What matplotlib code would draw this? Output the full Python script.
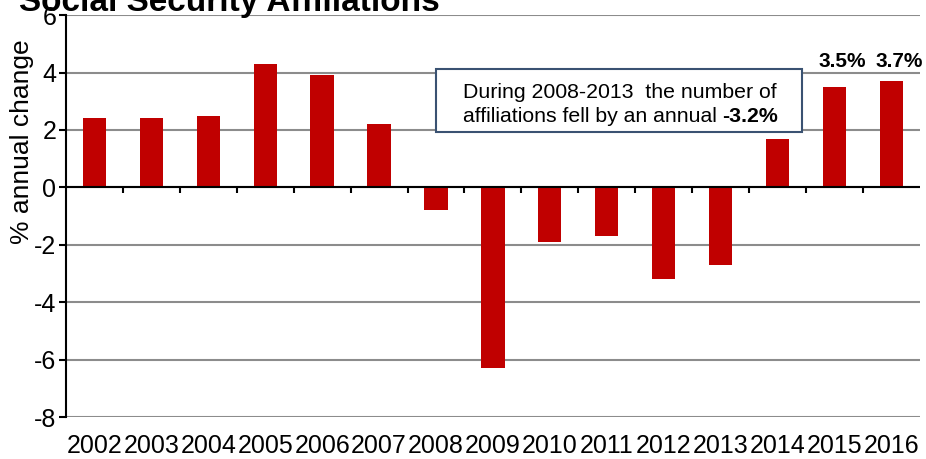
import numpy as np
import matplotlib.pyplot as plt
from matplotlib.patches import Rectangle

years = ['2002', '2003', '2004', '2005', '2006', '2007', '2008', '2009',
         '2010', '2011', '2012', '2013', '2014', '2015', '2016']
change = [2.4, 2.4, 2.5, 4.3, 3.9, 2.2, -0.8, -6.3,
          -1.9, -1.7, -3.2, -2.7, 1.7, 3.5, 3.7]
labelled = ['2015', '2016']
avg_fall = -3.2

plt.rcParams['font.family'] = ['Liberation Sans', 'DejaVu Sans']
plt.rcParams['axes.unicode_minus'] = False

fig = plt.figure(figsize=(9.26, 4.59), dpi=100)
ax = fig.add_axes([0.0713, 0.0915, 0.922, 0.8755])

x = np.arange(len(years))
ax.bar(x, change, width=0.41, color='#C00000', zorder=3)

ax.set_xlim(-0.5, len(years) - 0.5)
ax.set_ylim(-8, 6)
ax.set_yticks(np.arange(-8, 7, 2))
ax.yaxis.grid(True, color='#8c8c8c', linewidth=1.5, zorder=0)
ax.set_axisbelow(True)

for s in ['top', 'right', 'bottom']:
    ax.spines[s].set_visible(False)
ax.spines['left'].set_linewidth(1.5)
ax.tick_params(axis='y', length=5, width=1.5, labelsize=18, pad=2)

# zero line with category separators
ax.axhline(0, color='black', linewidth=1.5, zorder=4)
ax.vlines(x[:-1] + 0.5, -0.2, 0, color='black', linewidth=1.5, zorder=4)

ax.set_xticks(x)
ax.set_xticklabels(years, fontsize=18)
ax.tick_params(axis='x', length=0, pad=12)

ax.set_ylabel('% annual change', fontsize=19)
ax.yaxis.set_label_coords(-0.037, 0.684)

for yr, v in zip(years, change):
    if yr in labelled:
        i = years.index(yr)
        ax.text(i + 0.14, 4.4, f'{v:.1f}%', ha='center', va='center',
                fontsize=15, fontweight='bold')

# note box
ax.add_patch(Rectangle((6.0, 1.93), 6.43, 2.2, facecolor='white',
                       edgecolor='#3a5272', linewidth=1.5, zorder=5))
ax.text(9.23, 3.3, 'During 2008-2013  the number of', ha='center',
        va='center', fontsize=15.3, zorder=6)
t2 = ax.text(8.75, 2.46, 'affiliations fell by an annual ', ha='center',
             va='center', fontsize=15.3, zorder=6)
ax.annotate(f'{avg_fall:.1f}%', xy=(1, 0), xycoords=t2, ha='left',
            va='bottom', fontsize=15.3, fontweight='bold', zorder=6)

fig.text(0.02, 0.977, 'Social Security Affiliations', fontsize=24,
         fontweight='bold', ha='left', va='baseline')

fig.savefig('out.png', dpi=100)
